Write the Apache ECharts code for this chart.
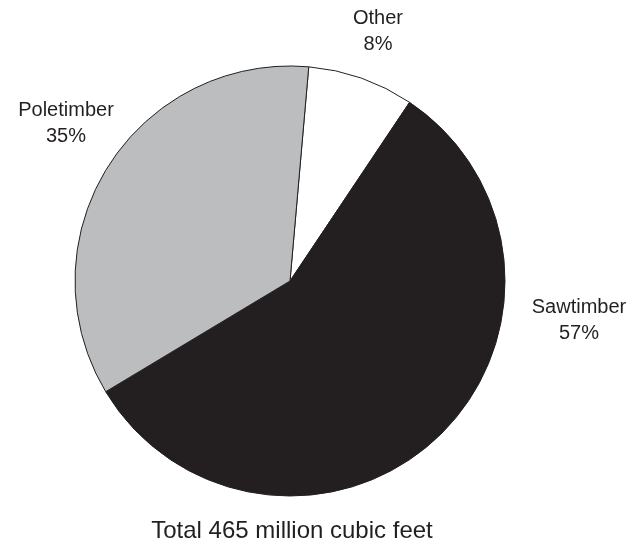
<!DOCTYPE html>
<html>
<head>
<meta charset="utf-8">
<script src="https://cdn.jsdelivr.net/npm/echarts@6/dist/echarts.min.js"></script>
<style>
  html, body { margin: 0; padding: 0; background: #fff; }
  #chart { width: 643px; height: 544px; }
</style>
</head>
<body>
<div id="chart"></div>
<script>
// clockwise from the top
var names = ['Other', 'Sawtimber', 'Poletimber'];
var shares = [8, 57, 35];
var colors = ['#ffffff', '#231f20', '#bcbdbf'];
var totalText = 'Total 465 million cubic feet';

// where each label sits (centre of the two lines)
var labelPos = [[378, 31], [579, 320], [66, 123]];

var chart = echarts.init(document.getElementById('chart'));

var data = names.map(function (n, i) {
  return { name: n, value: shares[i], itemStyle: { color: colors[i] } };
});

chart.setOption({
  animation: false,
  graphic: [{
    type: 'text',
    x: 292,
    y: 531,
    style: {
      text: totalText,
      align: 'center',
      verticalAlign: 'middle',
      font: '24px "Liberation Sans"',
      fill: '#231f20'
    }
  }],
  series: [{
    type: 'pie',
    center: [290, 281],
    radius: 215,
    startAngle: 85,
    clockwise: true,
    data: data,
    itemStyle: { borderColor: '#231f20', borderWidth: 1 },
    label: {
      show: true,
      position: 'outside',
      formatter: '{b}\n{c}%',
      fontFamily: 'Liberation Sans',
      fontSize: 20,
      lineHeight: 26,
      color: '#231f20',
      align: 'center',
      overflow: 'none',
      width: 200
    },
    labelLine: { show: false },
    labelLayout: function (p) {
      var pos = labelPos[p.dataIndex];
      return { x: pos[0], y: pos[1], align: 'center', verticalAlign: 'middle' };
    },
    emphasis: { disabled: true }
  }]
});
</script>
</body>
</html>
